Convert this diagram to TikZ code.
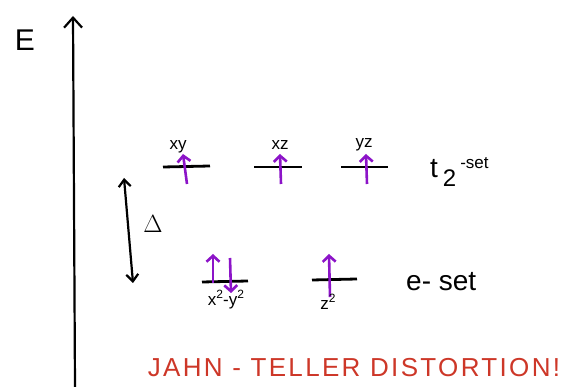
\documentclass[tikz,border=0pt]{standalone}
\usepackage{fontspec}
\setmainfont{Liberation Sans}
\usetikzlibrary{arrows.meta}
\definecolor{spin}{RGB}{140,20,200}
\definecolor{jt}{RGB}{205,55,40}
\tikzset{
  level/.style={line width=2.8pt, black},
  spinarrow/.style={line width=2.6pt, spin, -{Straight Barb[length=6pt,width=13pt]}},
  axis/.style={line width=2.2pt, -{Straight Barb[length=10pt,width=18pt]}},
  lbl/.style={inner sep=0pt, font=\fontsize{17}{18}\selectfont},
}
\newcommand{\sqx}{\fontsize{12}{12}\selectfont 2}
\begin{document}
\begin{tikzpicture}[x=1pt,y=-1pt]
\useasboundingbox (0,0) rectangle (566,387);
% axis
\coordinate (ax0) at (75,387);
\coordinate (ax1) at (73,16);
\draw[axis] (ax0) -- (ax1);
\node[inner sep=0pt, font=\fontsize{30}{32}\selectfont] (E) at (25,40) {E};
% t2 levels
\coordinate (l1a) at (163,167); \coordinate (l1b) at (210,166);
\coordinate (l2a) at (254,167); \coordinate (l2b) at (302,167);
\coordinate (l3a) at (341,167); \coordinate (l3b) at (388,167);
\draw[level] (l1a) -- (l1b);
\draw[level] (l2a) -- (l2b);
\draw[level] (l3a) -- (l3b);
\node[lbl] (xy) at (178,147) {xy};
\node[lbl] (xz) at (280,145) {xz};
\node[lbl] (yz) at (364,145) {yz};
\coordinate (s1a) at (187,184); \coordinate (s1b) at (183,154);
\coordinate (s2a) at (281,184); \coordinate (s2b) at (280,154);
\coordinate (s3a) at (367,184); \coordinate (s3b) at (366,154);
\draw[spinarrow] (s1a) -- (s1b);
\draw[spinarrow] (s2a) -- (s2b);
\draw[spinarrow] (s3a) -- (s3b);
\node[inner sep=0pt, anchor=west, font=\fontsize{28}{30}\selectfont] (t2) at (430,172) {t\hspace{5pt}\raisebox{-9pt}{\fontsize{24}{26}\selectfont 2}\hspace{4pt}\raisebox{9pt}{\fontsize{17}{18}\selectfont -set}};
% gap
\coordinate (g1) at (124,178); \coordinate (g2) at (133,283);
\draw[line width=2.2pt, {Straight Barb[length=7pt,width=12pt]}-{Straight Barb[length=7pt,width=12pt]}] (g1) -- (g2);
\node[inner sep=0pt, font=\fontsize{24}{26}\selectfont] (D) at (153,224) {$\Delta$};
% e levels
\coordinate (e1a) at (202,282); \coordinate (e1b) at (248,281);
\coordinate (e2a) at (312,280); \coordinate (e2b) at (357,279);
\draw[level] (e1a) -- (e1b);
\draw[level] (e2a) -- (e2b);
\coordinate (u1a) at (213,283); \coordinate (u1b) at (213,254);
\coordinate (d1a) at (230,258); \coordinate (d1b) at (231,293);
\coordinate (u2a) at (330,297); \coordinate (u2b) at (329,254);
\draw[spinarrow] (u1a) -- (u1b);
\draw[spinarrow] (d1a) -- (d1b);
\draw[spinarrow] (u2a) -- (u2b);
\node[lbl] (x2y2) at (226,300) {x\raisebox{7pt}{\sqx}-y\raisebox{7pt}{\sqx}};
\node[lbl] (z2) at (328,302) {z\raisebox{7pt}{\sqx}};
\node[inner sep=0pt, anchor=west, font=\fontsize{28}{30}\selectfont] (eset) at (406,282) {e- set};
% caption
\node[inner sep=0pt, text=jt, font=\fontsize{26}{28}\selectfont\addfontfeature{LetterSpace=9}] (jt) at (354,368) {JAHN - TELLER DISTORTION!};
\end{tikzpicture}
\end{document}
